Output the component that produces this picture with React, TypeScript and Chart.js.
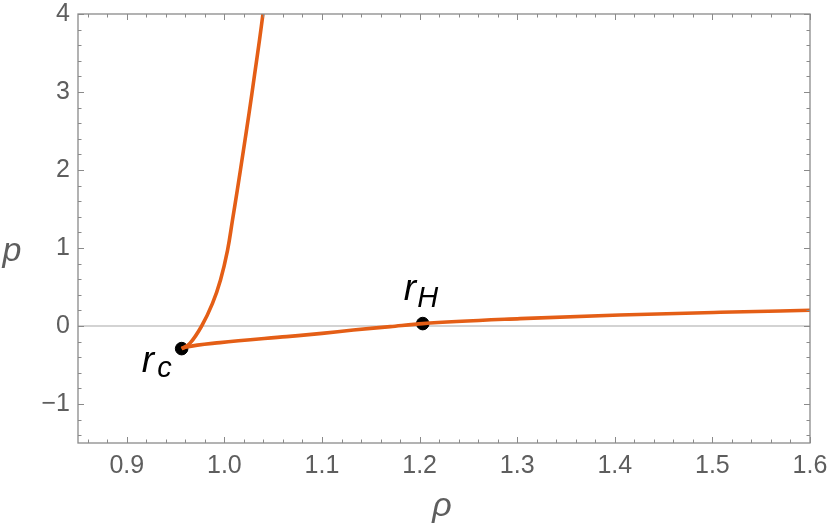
import React, { useEffect, useRef } from "react";
import { Chart, registerables } from "chart.js";

Chart.register(...registerables);

// Upper branch (from r_c upward)
const upperRho = [0.9562, 0.9648, 0.9767, 0.9878, 0.9960, 1.0032, 1.0083, 1.0132, 1.0196, 1.0253, 1.0309, 1.0360, 1.0395];
const upperP = [-0.29, -0.22, 0.0, 0.29, 0.59, 0.97, 1.36, 1.74, 2.26, 2.73, 3.22, 3.67, 4.0];

// Lower branch (from r_c to the right)
const lowerRho = [0.9562, 0.9613, 0.9955, 1.0638, 1.10, 1.1321, 1.1700, 1.2032, 1.303, 1.405, 1.508, 1.60];
const lowerP = [-0.29, -0.27, -0.213, -0.136, -0.095, -0.051, -0.008, 0.031, 0.095, 0.142, 0.176, 0.201];

// Marked points
const pointNames = ["c", "H"];
const pointRho = [0.9562, 1.2032];
const pointP = [-0.29, 0.031];

const xTicks = [0.9, 1.0, 1.1, 1.2, 1.3, 1.4, 1.5, 1.6];
const yTicks = [-1, 0, 1, 2, 3, 4];
const xMinorStep = 0.02;
const yMinorStep = 0.2;

const LINE = "rgb(228, 94, 22)";
const FRAME = "#8a8a8a";
const LABEL = "#5e5e5e";
const FONT = '"Liberation Sans", Arial, sans-serif';

const framePlugin = {
  id: "framePlugin",
  beforeDatasetsDraw(chart: any) {
    const { ctx, chartArea: a, scales } = chart;
    const y0 = scales.y.getPixelForValue(0);
    ctx.save();
    ctx.strokeStyle = "#c4c4c4";
    ctx.lineWidth = 1.5;
    ctx.beginPath();
    ctx.moveTo(a.left, y0);
    ctx.lineTo(a.right, y0);
    ctx.stroke();
    ctx.restore();
  },
  afterDraw(chart: any) {
    const { ctx, chartArea: a, scales } = chart;
    const xs = scales.x;
    const ys = scales.y;
    ctx.save();
    ctx.strokeStyle = FRAME;
    ctx.lineWidth = 1.3;
    ctx.strokeRect(a.left, a.top, a.right - a.left, a.bottom - a.top);
    ctx.lineWidth = 1;
    ctx.beginPath();
    const xmin = xs.min, xmax = xs.max;
    for (let i = Math.ceil(xmin / xMinorStep - 1e-6); i * xMinorStep <= xmax + 1e-9; i++) {
      const v = i * xMinorStep;
      const major = xTicks.some((t) => Math.abs(t - v) < 1e-6);
      const len = major ? 6 : 3.5;
      const px = Math.round(xs.getPixelForValue(v)) + 0.5;
      ctx.moveTo(px, a.bottom);
      ctx.lineTo(px, a.bottom - len);
      ctx.moveTo(px, a.top);
      ctx.lineTo(px, a.top + len);
    }
    const ymin = ys.min, ymax = ys.max;
    for (let i = Math.ceil(ymin / yMinorStep - 1e-6); i * yMinorStep <= ymax + 1e-9; i++) {
      const v = i * yMinorStep;
      const major = yTicks.some((t) => Math.abs(t - v) < 1e-6);
      const len = major ? 6 : 3.5;
      const py = Math.round(ys.getPixelForValue(v)) + 0.5;
      ctx.moveTo(a.left, py);
      ctx.lineTo(a.left + len, py);
      ctx.moveTo(a.right, py);
      ctx.lineTo(a.right - len, py);
    }
    ctx.stroke();

    ctx.fillStyle = LABEL;
    ctx.font = `italic 34px ${FONT}`;
    ctx.textAlign = "center";
    ctx.textBaseline = "alphabetic";
    ctx.fillText("p", 12, ys.getPixelForValue(0.83));
    ctx.fillText("\u03C1", (a.left + a.right) / 2 - 2, 516);

    ctx.fillStyle = "#000";
    ctx.textAlign = "left";
    const offs = [
      { rx: -40, ry: 23, sx: -24.5, sy: 28 },
      { rx: -19, ry: -24, sx: -5.5, sy: -17 },
    ];
    pointNames.forEach((name, i) => {
      const px = xs.getPixelForValue(pointRho[i]);
      const py = ys.getPixelForValue(pointP[i]);
      const o = offs[i];
      ctx.font = `italic 37px ${FONT}`;
      ctx.fillText("r", px + o.rx, py + o.ry);
      ctx.font = `italic 29px ${FONT}`;
      ctx.fillText(name, px + o.sx, py + o.sy);
    });
    ctx.restore();
  },
};

export default function App() {
  const ref = useRef<HTMLCanvasElement>(null);
  useEffect(() => {
    document.body.style.margin = "0";
    const chart = new Chart(ref.current!, {
      type: "scatter",
      data: {
        datasets: [
          {
            data: upperRho.map((x, i) => ({ x, y: upperP[i] })),
            showLine: true,
            borderColor: LINE,
            borderWidth: 3.6,
            pointRadius: 0,
            tension: 0.4,
          } as any,
          {
            data: lowerRho.map((x, i) => ({ x, y: lowerP[i] })),
            showLine: true,
            borderColor: LINE,
            borderWidth: 3.6,
            pointRadius: 0,
            cubicInterpolationMode: "monotone",
          } as any,
          {
            data: pointRho.map((x, i) => ({ x, y: pointP[i] })),
            showLine: false,
            backgroundColor: "#000",
            borderColor: "#000",
            pointRadius: 6.3,
          },
        ],
      },
      options: {
        animation: false,
        responsive: false,
        maintainAspectRatio: false,
        layout: { padding: { top: 14, right: 20, left: 0, bottom: 0 } },
        plugins: { legend: { display: false }, tooltip: { enabled: false } },
        scales: {
          x: {
            type: "linear",
            min: 0.85,
            max: 1.6,
            grid: { display: false, drawTicks: false },
            border: { display: false },
            afterBuildTicks: (s: any) => {
              s.ticks = xTicks.map((v) => ({ value: v }));
            },
            afterFit: (s: any) => {
              s.height = 88;
              s.paddingLeft = 0;
              s.paddingRight = 0;
            },
            ticks: {
              padding: 8,
              color: LABEL,
              font: { size: 25, family: FONT },
              maxRotation: 0,
              autoSkip: false,
              callback: (v: any) => Number(v).toFixed(1),
            },
          },
          y: {
            type: "linear",
            min: -1.5,
            max: 4,
            grid: { display: false, drawTicks: false },
            border: { display: false },
            afterBuildTicks: (s: any) => {
              s.ticks = yTicks.map((v) => ({ value: v }));
            },
            afterFit: (s: any) => {
              s.width = 78;
              s.paddingTop = 0;
              s.paddingBottom = 0;
            },
            ticks: {
              padding: 8,
              color: LABEL,
              font: { size: 25, family: FONT },
              autoSkip: false,
              callback: (v: any) => (Number(v) < 0 ? "\u2212" + Math.abs(Number(v)) : String(v)),
            },
          },
        },
      },
      plugins: [framePlugin],
    });
    return () => chart.destroy();
  }, []);
  return (
    <div style={{ position: "absolute", left: 0, top: 0, width: 830, height: 531 }}>
      <canvas ref={ref} width={830} height={531} style={{ width: 830, height: 531 }} />
    </div>
  );
}
